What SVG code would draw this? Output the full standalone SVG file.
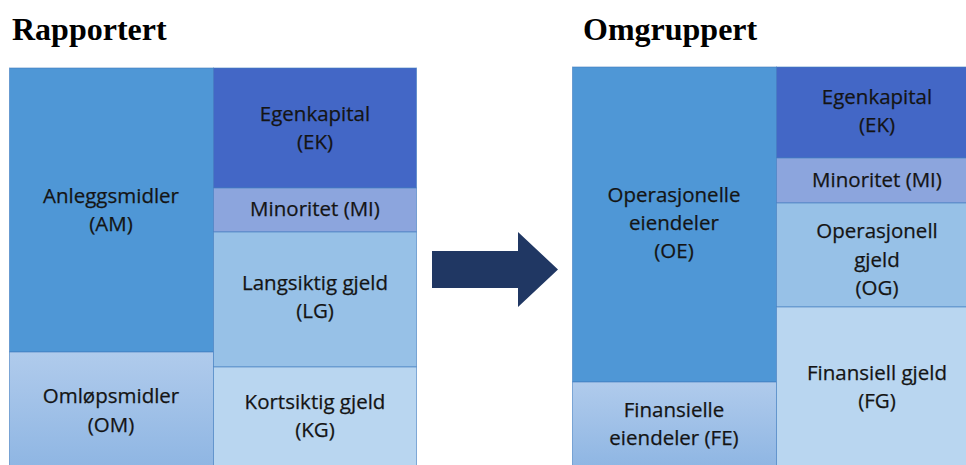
<svg xmlns="http://www.w3.org/2000/svg" width="966" height="465" viewBox="0 0 966 465">
<defs>
<style>
.t{font-family:"Open Sans","Liberation Sans",sans-serif;font-size:20.5px;fill:#141414;stroke:#141414;stroke-width:0.25px;text-anchor:middle}
.h{font-family:"Liberation Serif","Times New Roman",serif;font-weight:bold;font-size:32px;fill:#000}
.b{stroke:#3f7cbf;stroke-width:1;stroke-opacity:0.6}
.am{fill:#4f97d6}.ek{fill:#4367c6}.mi{fill:#8ca5dd}.lg{fill:#97c1e7}.kg{fill:#b9d6f0}
</style>
<linearGradient id="gOM" x1="0" y1="0" x2="0" y2="1">
<stop offset="0" stop-color="#b0cbec"/>
<stop offset="1" stop-color="#8fb6e3"/>
</linearGradient>
</defs>
<rect width="966" height="465" fill="#fff"/>
<text class="h" x="12" y="40">Rapportert</text>
<text class="h" x="583" y="40">Omgruppert</text>

<g id="AM"><rect class="am b" x="9.5" y="68" width="204" height="284"/>
<text class="t" x="111" y="203">Anleggsmidler</text><text class="t" x="111" y="231">(AM)</text></g>
<g id="OM"><rect class="b" fill="url(#gOM)" x="9.5" y="352" width="204" height="114"/>
<text class="t" x="111" y="403">Omløpsmidler</text><text class="t" x="111" y="432">(OM)</text></g>
<g id="EK1"><rect class="ek b" x="213.5" y="68" width="203" height="120"/>
<text class="t" x="315" y="121">Egenkapital</text><text class="t" x="315" y="149">(EK)</text></g>
<g id="MI1"><rect class="mi b" x="213.5" y="188" width="203" height="44"/>
<text class="t" x="315" y="216">Minoritet (MI)</text></g>
<g id="LG"><rect class="lg b" x="213.5" y="232" width="203" height="135"/>
<text class="t" x="315" y="290">Langsiktig gjeld</text><text class="t" x="315" y="318">(LG)</text></g>
<g id="KG"><rect class="kg b" x="213.5" y="367" width="203" height="99"/>
<text class="t" x="315" y="409">Kortsiktig gjeld</text><text class="t" x="315" y="437">(KG)</text></g>

<g id="connectors"><path d="M432 251 H518 V232 L558 269.5 L518 307 V288 H432 Z" fill="#203763"/></g>

<g id="OE"><rect class="am b" x="572.5" y="67" width="204" height="315"/>
<text class="t" x="674" y="202">Operasjonelle</text><text class="t" x="674" y="230">eiendeler</text><text class="t" x="674" y="258">(OE)</text></g>
<g id="FE"><rect class="b" fill="url(#gOM)" x="572.5" y="382" width="204" height="84"/>
<text class="t" x="674" y="417">Finansielle</text><text class="t" x="674" y="445">eiendeler (FE)</text></g>
<g id="EK2"><rect class="ek b" x="776.5" y="67" width="202" height="91"/>
<text class="t" x="877" y="104">Egenkapital</text><text class="t" x="877" y="132">(EK)</text></g>
<g id="MI2"><rect class="mi b" x="776.5" y="158" width="202" height="45"/>
<text class="t" x="877" y="187">Minoritet (MI)</text></g>
<g id="OG"><rect class="lg b" x="776.5" y="203" width="202" height="104"/>
<text class="t" x="877" y="238">Operasjonell</text><text class="t" x="877" y="267">gjeld</text><text class="t" x="877" y="295">(OG)</text></g>
<g id="FG"><rect class="kg b" x="776.5" y="307" width="202" height="159"/>
<text class="t" x="877" y="380">Finansiell gjeld</text><text class="t" x="877" y="408">(FG)</text></g>
</svg>
